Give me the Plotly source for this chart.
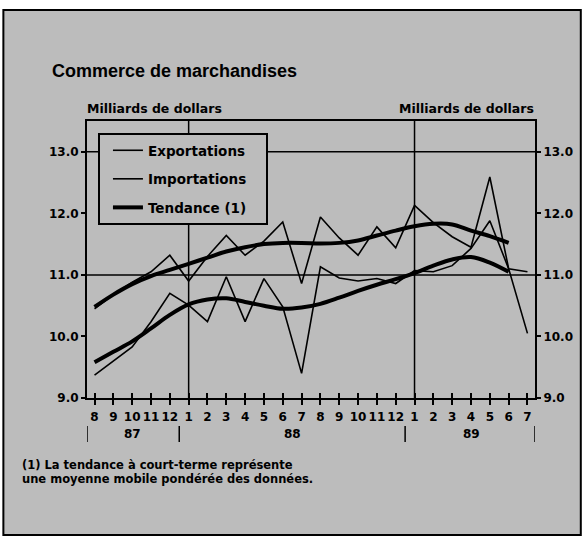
import plotly.graph_objects as go

# ---------------- data ----------------
month_labels = ["8", "9", "10", "11", "12", "1", "2", "3", "4", "5", "6", "7",
                "8", "9", "10", "11", "12", "1", "2", "3", "4", "5", "6", "7"]
exports = [10.45, 10.68, 10.88, 11.05, 11.32, 10.90, 11.30, 11.64, 11.32, 11.55,
           11.86, 10.86, 11.94, 11.60, 11.32, 11.78, 11.44, 12.13, 11.85, 11.62,
           11.45, 12.59, 11.10, 10.05]
imports = [9.37, 9.60, 9.83, 10.24, 10.70, 10.51, 10.24, 10.97, 10.24, 10.94,
           10.48, 9.40, 11.13, 10.95, 10.90, 10.94, 10.86, 11.07, 11.05, 11.15,
           11.43, 11.88, 11.10, 11.05]
exports_trend = [10.48, 10.68, 10.85, 10.98, 11.08, 11.18, 11.28, 11.38, 11.45,
                 11.50, 11.52, 11.52, 11.51, 11.52, 11.56, 11.64, 11.72, 11.79,
                 11.83, 11.82, 11.72, 11.63, 11.52]
imports_trend = [9.58, 9.75, 9.92, 10.13, 10.35, 10.52, 10.60, 10.62, 10.56,
                 10.50, 10.45, 10.47, 10.53, 10.63, 10.74, 10.84, 10.93, 11.03,
                 11.15, 11.25, 11.29, 11.20, 11.05]
series_names = ["Exportations", "Importations", "Tendance (1)"]
year_labels = ["87", "88", "89"]
year_centers = [2, 10.5, 20]
year_breaks = [-0.4, 4.5, 16.5, 23.4]
year_starts = [5, 17]
y_ticks = [9, 10, 11, 12, 13]
y_tick_text = ["9.0", "10.0", "11.0", "12.0", "13.0"]
grid_values = [11, 13]

x_idx = list(range(len(month_labels)))
x_trend = x_idx[:len(exports_trend)]

BG = "#bcbcbc"
FONT = "DejaVu Sans"
XR = [-0.4, 23.4]
YR = [9, 13.5]
PAD = "\u00a0" * 3  # widen the legend box a little

# plot area in pixels: left 87, right 537, top 121, bottom 398
PL, PR, PT, PB = 87, 537, 121, 398


def px(xp):
    return (xp - PL) / (PR - PL)


def py(yp):
    return (PB - yp) / (PB - PT)


fig = go.Figure()
fig.add_trace(go.Scatter(x=x_idx, y=exports, mode="lines", name=series_names[0] + PAD,
                         line=dict(color="black", width=1.6), legendgroup="a"))
fig.add_trace(go.Scatter(x=x_idx, y=imports, mode="lines", name=series_names[1] + PAD,
                         line=dict(color="black", width=1.6), legendgroup="b"))
fig.add_trace(go.Scatter(x=x_trend, y=exports_trend, mode="lines", name=series_names[2] + PAD,
                         line=dict(color="black", width=4, shape="spline"), legendgroup="c"))
fig.add_trace(go.Scatter(x=x_trend, y=imports_trend, mode="lines", name=series_names[2],
                         line=dict(color="black", width=4, shape="spline"), legendgroup="c",
                         showlegend=False))
# invisible helper trace for the mirrored axes
fig.add_trace(go.Scatter(x=x_idx, y=exports, mode="lines", xaxis="x2", yaxis="y2",
                         line=dict(width=0, color="rgba(0,0,0,0)"), showlegend=False,
                         hoverinfo="skip"))

shapes = [dict(type="rect", xref="paper", yref="paper",
               x0=px(3), x1=px(583), y0=py(535), y1=py(10),
               fillcolor=BG, line=dict(color="black", width=2), layer="below")]
for g in grid_values:
    shapes.append(dict(type="line", xref="paper", yref="y", x0=0, x1=1, y0=g, y1=g,
                       line=dict(color="black", width=1.5), layer="below"))
for s in year_starts:
    shapes.append(dict(type="line", xref="x", yref="paper", x0=s, x1=s, y0=0, y1=1,
                       line=dict(color="black", width=1.5), layer="below"))
for b in year_breaks:
    shapes.append(dict(type="line", xref="x", yref="paper", x0=b, x1=b,
                       y0=py(426), y1=py(442), line=dict(color="black", width=1.5)))

annotations = [
    dict(text="Commerce de marchandises", xref="paper", yref="paper",
         x=px(50), y=py(71), xanchor="left", yanchor="middle", showarrow=False,
         font=dict(family="Liberation Sans", size=18, color="black", weight="bold")),
    dict(text="Milliards de dollars", xref="paper", yref="paper",
         x=px(85), y=py(108), xanchor="left", yanchor="middle", showarrow=False,
         font=dict(family=FONT, size=12.5, color="black", weight="bold")),
    dict(text="Milliards de dollars", xref="paper", yref="paper",
         x=px(538), y=py(108), xanchor="right", yanchor="middle", showarrow=False,
         font=dict(family=FONT, size=12.5, color="black", weight="bold")),
    dict(text="(1) La tendance à court-terme représente", xref="paper", yref="paper",
         x=px(20), y=py(465), xanchor="left", yanchor="middle", showarrow=False,
         font=dict(family=FONT, size=11.5, color="black", weight="bold")),
    dict(text="une moyenne mobile pondérée des données.", xref="paper", yref="paper",
         x=px(20), y=py(479), xanchor="left", yanchor="middle", showarrow=False,
         font=dict(family=FONT, size=11.5, color="black", weight="bold")),
]
for lab, c in zip(year_labels, year_centers):
    annotations.append(dict(text=lab, xref="x", yref="paper", x=c, y=py(434),
                            xanchor="center", yanchor="middle", showarrow=False,
                            font=dict(family=FONT, size=12, color="black", weight="bold")))

tickfont = dict(family=FONT, size=12, color="black", weight="bold")
fig.update_layout(
    width=585, height=538, autosize=False,
    margin=dict(l=PL, r=585 - PR, t=PT, b=538 - PB),
    paper_bgcolor="white", plot_bgcolor="rgba(0,0,0,0)",
    showlegend=True,
    legend=dict(x=px(98), y=py(133), xanchor="left", yanchor="top",
                bgcolor=BG, bordercolor="black", borderwidth=2,
                font=dict(family=FONT, size=13.5, color="black", weight="bold"),
                tracegroupgap=8, indentation=8, itemwidth=30),
    xaxis=dict(range=XR, tickmode="array", tickvals=x_idx, ticktext=month_labels,
               ticks="outside", ticklen=5, tickwidth=2, tickcolor="black",
               showgrid=False, zeroline=False, showline=True, linecolor="black",
               linewidth=2, mirror=True, tickfont=tickfont, ticklabelstandoff=2),
    yaxis=dict(range=YR, tickmode="array", tickvals=y_ticks, ticktext=y_tick_text,
               ticks="outside", ticklen=4, tickwidth=2, tickcolor="black",
               showgrid=False, zeroline=False, showline=True, linecolor="black",
               linewidth=2, mirror=True, tickfont=tickfont, ticklabelstandoff=0),
    xaxis2=dict(range=XR, overlaying="x", anchor="y", side="bottom",
                tickmode="array", tickvals=x_idx, showticklabels=False,
                ticks="inside", ticklen=5, tickwidth=2, tickcolor="black",
                showgrid=False, zeroline=False, showline=False),
    yaxis2=dict(range=YR, overlaying="y", anchor="x", side="right",
                tickmode="array", tickvals=y_ticks, ticktext=y_tick_text,
                ticks="outside", ticklen=5, tickwidth=2, tickcolor="black",
                showgrid=False, zeroline=False, showline=False, tickfont=tickfont),
    shapes=shapes, annotations=annotations,
)

fig.write_html("out.html", config={"displayModeBar": False},
               post_script="document.body.style.margin='0';")
